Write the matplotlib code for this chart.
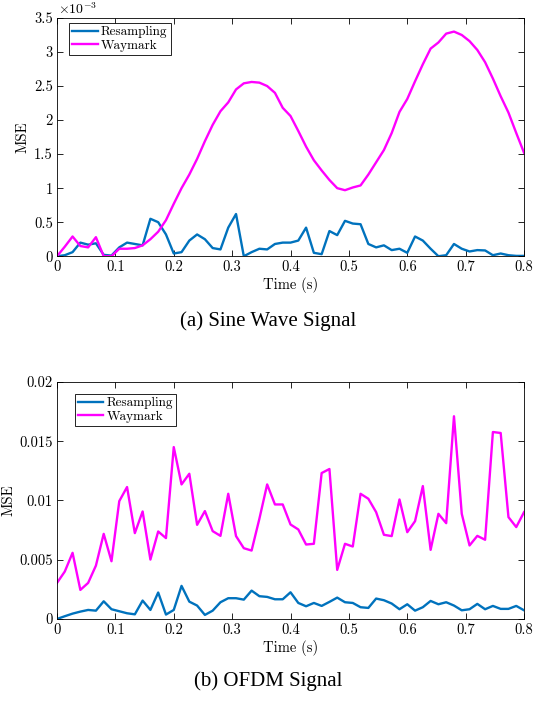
import numpy as np
import matplotlib
matplotlib.use('Agg')
from matplotlib import pyplot as plt
from matplotlib.ticker import FuncFormatter, MultipleLocator

# time axis: 61 samples over 0..0.8 s
t = np.linspace(0, 0.8, 61)

# sine wave MSE (x 1e-3)
sine_resampling = [0, 0.015, 0.06, 0.2, 0.17, 0.19, 0.02, 0.01, 0.13, 0.2,
                   0.18, 0.16, 0.55, 0.5, 0.32, 0.04, 0.06, 0.23, 0.32, 0.25,
                   0.12, 0.1, 0.42, 0.62, 0, 0.06, 0.11, 0.1, 0.18, 0.2,
                   0.2, 0.23, 0.42, 0.05, 0.03, 0.37, 0.31, 0.52, 0.48, 0.47,
                   0.18, 0.13, 0.16, 0.09, 0.11, 0.05, 0.29, 0.23, 0.11, 0,
                   0.015, 0.18, 0.11, 0.07, 0.09, 0.085, 0.015, 0.04, 0.015, 0.005,
                   0.005]
sine_waymark = [0, 0.14, 0.29, 0.15, 0.13, 0.28, 0, 0, 0.11, 0.11,
                0.12, 0.16, 0.25, 0.36, 0.53, 0.77, 1.0, 1.2, 1.43, 1.69,
                1.93, 2.13, 2.26, 2.45, 2.54, 2.56, 2.55, 2.5, 2.4, 2.18,
                2.06, 1.84, 1.61, 1.41, 1.26, 1.12, 1.0, 0.97, 1.01, 1.04,
                1.2, 1.38, 1.56, 1.81, 2.12, 2.31, 2.57, 2.82, 3.05, 3.14,
                3.27, 3.3, 3.25, 3.16, 3.03, 2.85, 2.61, 2.35, 2.11, 1.81,
                1.52]

# OFDM MSE (x 1e-3)
ofdm_resampling = [0, 0.23, 0.45, 0.62, 0.76, 0.7, 1.49, 0.82, 0.65, 0.48,
                   0.39, 1.55, 0.76, 2.23, 0.37, 0.76, 2.79, 1.46, 1.13, 0.34,
                   0.7, 1.41, 1.75, 1.75, 1.63, 2.39, 1.92, 1.86, 1.66, 1.66,
                   2.25, 1.35, 1.07, 1.35, 1.1, 1.44, 1.8, 1.41, 1.35, 0.99,
                   0.93, 1.72, 1.58, 1.3, 0.82, 1.24, 0.7, 0.99, 1.52, 1.24,
                   1.41, 1.13, 0.73, 0.82, 1.27, 0.82, 1.1, 0.85, 0.85, 1.1,
                   0.73]
ofdm_waymark = [3.04, 4.0, 5.58, 2.45, 3.04, 4.5, 7.18, 4.87, 9.94, 11.13,
                7.24, 9.07, 5.01, 7.38, 6.82, 14.5, 11.35, 12.25, 7.94, 9.1,
                7.41, 7.01, 10.56, 6.99, 5.97, 5.77, 8.45, 11.35, 9.66, 9.66,
                7.97, 7.55, 6.28, 6.34, 12.31, 12.65, 4.14, 6.34, 6.11, 10.56,
                10.14, 9.01, 7.1, 6.99, 10.08, 7.32, 8.25, 11.21, 5.83, 8.87,
                8.08, 17.1, 8.87, 6.2, 7.01, 6.68, 15.77, 15.69, 8.59, 7.75,
                9.01]

plt.rcParams['font.family'] = 'serif'
plt.rcParams['font.serif'] = ['cmr10']
plt.rcParams['mathtext.fontset'] = 'cm'
plt.rcParams['axes.formatter.use_mathtext'] = True

BLUE = '#0072BD'
PINK = '#FF00FF'
fmt = FuncFormatter(lambda v, p: '%g' % round(v, 6))

fig = plt.figure(figsize=(5.47, 7.02), dpi=100)
ax1 = fig.add_axes([0.1042, 0.635, 0.8538, 0.3394])
ax2 = fig.add_axes([0.1042, 0.1183, 0.8538, 0.3377])

def style(ax):
    ax.tick_params(direction='in', top=True, right=True, labelsize=10.5,
                   length=4, width=0.6, pad=3)
    for s in ax.spines.values():
        s.set_linewidth(0.6)
    ax.set_xlim(0, 0.8)
    ax.xaxis.set_major_locator(MultipleLocator(0.1))
    ax.xaxis.set_major_formatter(fmt)
    ax.yaxis.set_major_formatter(fmt)
    ax.set_xlabel('Time (s)', fontsize=10.5, labelpad=2)
    ax.set_ylabel('MSE', fontsize=10.5, labelpad=3)

def add_legend(ax, anchor):
    leg = ax.legend(loc='upper left', bbox_to_anchor=anchor,
                    fontsize=9.5, fancybox=False, edgecolor='black',
                    framealpha=1, handlelength=1.9, borderpad=0.25,
                    labelspacing=0.1, handletextpad=0.25, borderaxespad=0)
    leg.get_frame().set_linewidth(0.6)

ax1.plot(t, sine_resampling, color=BLUE, lw=1.7, label='Resampling')
ax1.plot(t, sine_waymark, color=PINK, lw=1.7, label='Waymark')
style(ax1)
ax1.set_ylim(0, 3.5)
ax1.yaxis.set_major_locator(MultipleLocator(0.5))
# exponent label sits just above the top-left corner
fig.text(0.106, 0.998, r'$\times10^{-3}$', fontsize=10, ha='left', va='top')
add_legend(ax1, (0.026, 0.98))

ax2.plot(t, np.array(ofdm_resampling) * 1e-3, color=BLUE, lw=1.7, label='Resampling')
ax2.plot(t, np.array(ofdm_waymark) * 1e-3, color=PINK, lw=1.7, label='Waymark')
style(ax2)
ax2.set_ylim(0, 0.02)
ax2.yaxis.set_major_locator(MultipleLocator(0.005))
add_legend(ax2, (0.038, 0.95))

fig.text(0.49, 0.543, '(a) Sine Wave Signal', family='Liberation Serif',
         fontsize=15, ha='center', va='center')
fig.text(0.49, 0.030, '(b) OFDM Signal', family='Liberation Serif',
         fontsize=15, ha='center', va='center')

fig.savefig('out.png', dpi=100)
